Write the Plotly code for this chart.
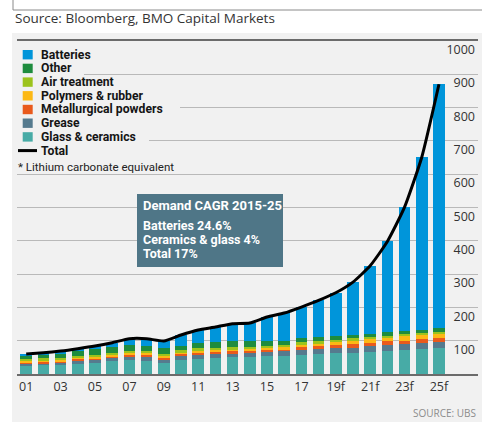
import plotly.graph_objects as go

# ---------------- data ----------------
years = ["01", "02", "03", "04", "05", "06", "07", "08", "09", "10", "11", "12", "13",
         "14", "15", "16", "17", "18", "19f", "20f", "21f", "22f", "23f", "24f", "25f"]
tick_labels = ["01", "03", "05", "07", "09", "11", "13", "15", "17", "19f", "21f", "23f", "25f"]

glass_ceramics = [23, 26, 26, 29, 34, 38, 42, 40, 33, 41, 45, 48, 50, 51, 53, 54, 56, 60, 63, 63, 66, 70, 72, 74, 77]
grease = [8, 7, 9, 12, 10, 12, 12, 13, 10, 14, 12, 12, 12, 13, 13, 14, 15, 14, 15, 15, 17, 16, 17, 18, 18]
metallurgical = [4, 4, 4, 5, 4, 4, 5, 5, 6, 5, 6, 6, 6, 5, 6, 7, 9, 9, 8, 12, 10, 12, 11, 12, 13]
polymers = [5, 5, 5, 5, 4, 5, 5, 7, 7, 6, 7, 7, 7, 7, 7, 6, 8, 9, 9, 12, 11, 13, 14, 14, 14]
air_treatment = [4, 5, 5, 4, 5, 5, 4, 5, 5, 5, 7, 6, 6, 6, 6, 6, 7, 6, 6, 6, 7, 4, 6, 5, 5]
other = [11, 11, 12, 13, 17, 18, 20, 15, 16, 14, 16, 18, 18, 17, 13, 13, 12, 12, 12, 10, 10, 11, 10, 10, 11]
batteries = [5, 6, 8, 8, 10, 12, 18, 21, 22, 32, 39, 44, 52, 54, 73, 83, 94, 111, 131, 158, 204, 272, 371, 518, 732]

y_ticks = [100, 200, 300, 400, 500, 600, 700, 800, 900, 1000]

series = [
    ("Glass & ceramics", glass_ceramics, "#47aba6"),
    ("Grease", grease, "#557a8e"),
    ("Metallurgical powders", metallurgical, "#e95a1c"),
    ("Polymers & rubber", polymers, "#fcb814"),
    ("Air treatment", air_treatment, "#9cc31c"),
    ("Other", other, "#1e8c3e"),
    ("Batteries", batteries, "#0095da"),
]
total = [sum(v) for v in zip(*[s[1] for s in series])]

# ---------------- geometry helpers (pixel -> paper) ----------------
W, H = 482, 422
ML, MR, MT, MB = 17, 4, 41, 48
PW, PH = W - ML - MR, H - MT - MB


def px(x):
    return (x - ML) / PW


def py(y):
    return (H - MB - y) / PH


fig = go.Figure()
for name, vals, col in series:
    fig.add_trace(go.Bar(x=years, y=vals, name=name, marker=dict(color=col, line=dict(width=0)),
                         showlegend=False))
fig.add_trace(go.Scatter(x=years, y=total, name="Total", mode="lines",
                         line=dict(color="#000000", width=3, shape="spline", smoothing=0.5),
                         showlegend=False))

shapes = []
annotations = []

# grey panel and top frame
shapes.append(dict(type="rect", xref="paper", yref="paper", x0=px(12), x1=px(490), y0=py(33), y1=py(430),
                   fillcolor="#f1f1f1", line=dict(width=0), layer="below"))
shapes.append(dict(type="rect", xref="paper", yref="paper", x0=px(13), x1=px(495), y0=py(10), y1=py(-20),
                   fillcolor="rgba(0,0,0,0)", line=dict(width=1, color="#8a8a8a"), layer="below"))

# legend (custom, tighter spacing than plotly's legend)
legend_rows = [
    ("Batteries", "#0095da", 54.7, 94),
    ("Other", "#1e8c3e", 68.4, 75),
    ("Air treatment", "#9cc31c", 82.1, 121),
    ("Polymers & rubber", "#fcb814", 95.8, 149),
    ("Metallurgical powders", "#e95a1c", 109.5, 171),
    ("Grease", "#557a8e", 123.2, 82),
    ("Glass & ceramics", "#47aba6", 136.9, 140),
    ("Total", None, 150.6, 71),
]
for label, col, yc, xend in legend_rows:
    shapes.append(dict(type="rect", xref="paper", yref="paper", x0=px(16), x1=px(xend + 9),
                       y0=py(yc + 7), y1=py(yc - 7), fillcolor="#f1f1f1", line=dict(width=0), layer="above"))
for label, col, yc, xend in legend_rows:
    if col:
        shapes.append(dict(type="rect", xref="paper", yref="paper", x0=px(22.7), x1=px(32.7),
                           y0=py(yc + 4.7), y1=py(yc - 4.7), fillcolor=col, line=dict(width=0), layer="above"))
    else:
        shapes.append(dict(type="line", xref="paper", yref="paper", x0=px(18), x1=px(37),
                           y0=py(yc), y1=py(yc), line=dict(color="#000000", width=3), layer="above"))
    annotations.append(dict(text="<b>%s</b>" % label, xref="paper", yref="paper", x=px(40), y=py(yc),
                            xanchor="left", yanchor="middle", showarrow=False, borderpad=0,
                            font=dict(family="Roboto", size=12.2, color="#151515")))
annotations.append(dict(text="* Lithium carbonate equivalent", xref="paper", yref="paper", x=px(17), y=py(166.5),
                        xanchor="left", yanchor="middle", showarrow=False, borderpad=0,
                        font=dict(family="Roboto", size=11.5, color="#222222")))

# CAGR box
shapes.append(dict(type="rect", xref="paper", yref="paper", x0=px(137), x1=px(283), y0=py(267), y1=py(194),
                   fillcolor="#4f7687", line=dict(width=0), layer="above"))
box_lines = [("Demand CAGR 2015-25", 205, 13), ("Batteries 24.6%", 225, 12.5),
             ("Ceramics & glass 4%", 239.5, 12.5), ("Total 17%", 253.5, 12.5)]
for txt, yc, fs in box_lines:
    annotations.append(dict(text="<b>%s</b>" % txt, xref="paper", yref="paper", x=px(142), y=py(yc),
                            xanchor="left", yanchor="middle", showarrow=False, borderpad=0,
                            font=dict(family="Roboto", size=fs, color="#ffffff")))

# header / footer text
annotations.append(dict(text="Source: Bloomberg, BMO Capital Markets", xref="paper", yref="paper",
                        x=px(13), y=py(18), xanchor="left", yanchor="middle", showarrow=False,
                        font=dict(family="Open Sans", size=13.5, color="#333333")))
annotations.append(dict(text="SOURCE: UBS", xref="paper", yref="paper", x=px(478), y=py(413),
                        xanchor="right", yanchor="middle", showarrow=False,
                        font=dict(family="Open Sans", size=10, color="#8c8c8c")))

fig.update_layout(
    width=W, height=H,
    margin=dict(l=ML, r=MR, t=MT, b=MB, pad=0),
    paper_bgcolor="#ffffff",
    plot_bgcolor="rgba(0,0,0,0)",
    barmode="stack",
    bargap=0.32,
    showlegend=False,
    shapes=shapes,
    annotations=annotations,
    xaxis=dict(type="category", categoryorder="array", categoryarray=years,
               range=[-0.535, 26.27], tickmode="array", tickvals=tick_labels, ticktext=tick_labels,
               showgrid=False, ticks="", showline=True, linecolor="#6b6b6b", linewidth=1.5, mirror=True,
               tickfont=dict(family="Open Sans", size=12.5, color="#333333"), fixedrange=True),
    yaxis=dict(range=[0, 1000], side="right", tickmode="array", tickvals=y_ticks,
               ticklabelposition="inside bottom", showgrid=True, gridcolor="#b9b9b9", gridwidth=1,
               zeroline=False, showline=False, ticks="",
               tickfont=dict(family="Open Sans", size=12.5, color="#333333"), fixedrange=True),
)

fig.write_html("out.html", config={"displayModeBar": False},
               post_script="document.body.style.margin='0';document.body.style.overflow='hidden';")
